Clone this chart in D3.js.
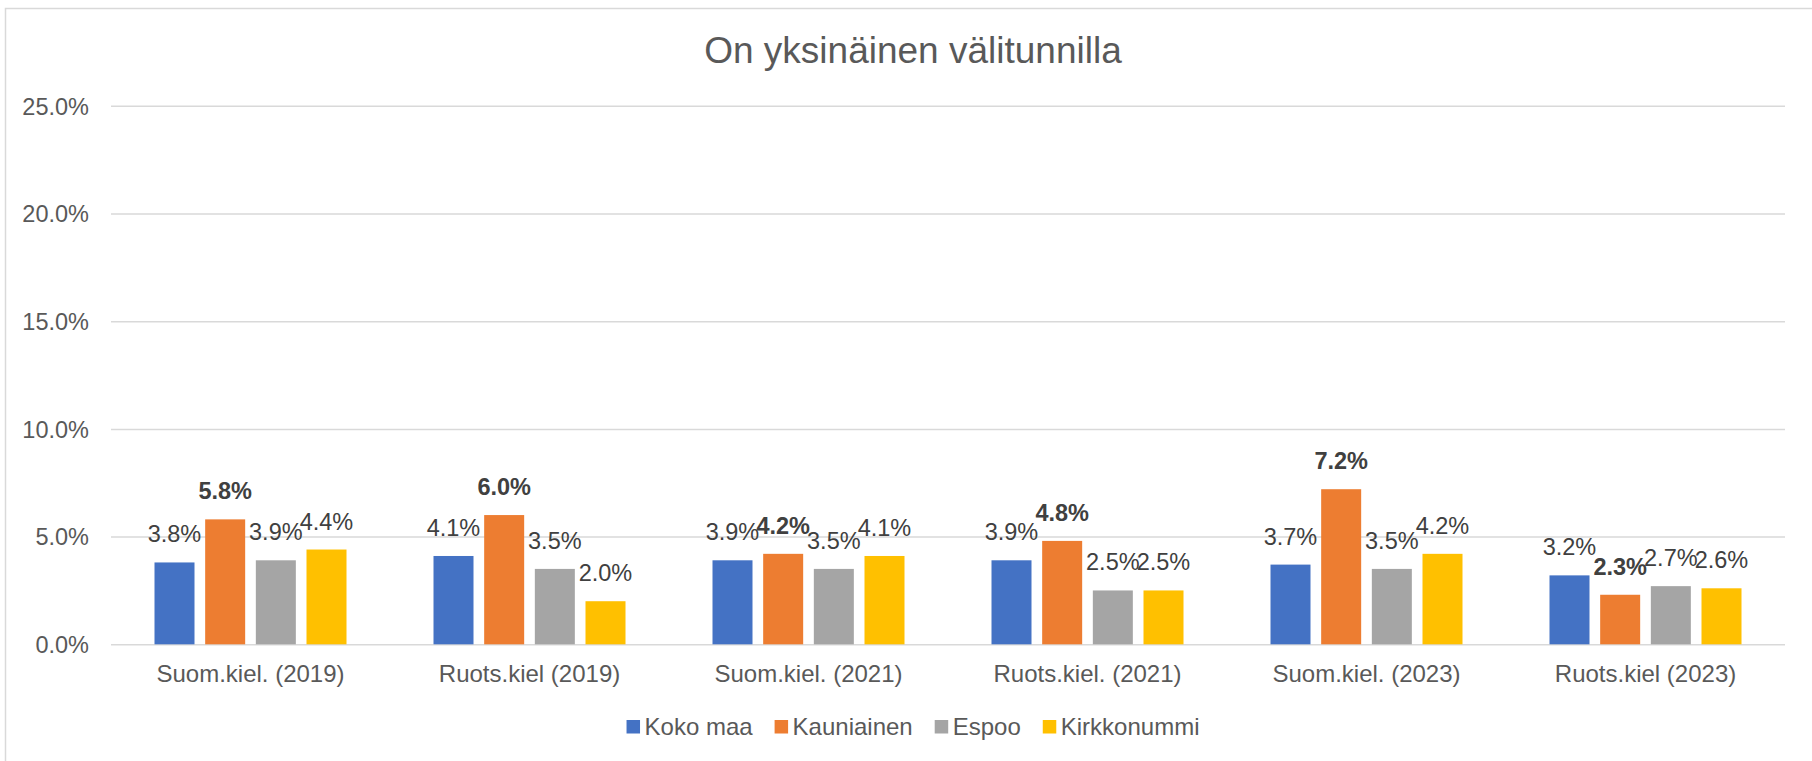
<!DOCTYPE html>
<html>
<head>
<meta charset="utf-8">
<script src="https://cdn.jsdelivr.net/npm/d3@7"></script>
<style>
  html, body { margin: 0; padding: 0; background: #fff; }
  svg { display: block; }
  text { font-family: "Liberation Sans", Arial, sans-serif; }
</style>
</head>
<body>
<svg id="chart" width="1812" height="761"></svg>
<script>
const title = "On yksinäinen välitunnilla";
const categories = ["Suom.kiel. (2019)", "Ruots.kiel (2019)", "Suom.kiel. (2021)", "Ruots.kiel. (2021)", "Suom.kiel. (2023)", "Ruots.kiel (2023)"];
const seriesNames = ["Koko maa", "Kauniainen", "Espoo", "Kirkkonummi"];
const kokoMaa = [3.8, 4.1, 3.9, 3.9, 3.7, 3.2];
const kauniainen = [5.8, 6.0, 4.2, 4.8, 7.2, 2.3];
const espoo = [3.9, 3.5, 3.5, 2.5, 3.5, 2.7];
const kirkkonummi = [4.4, 2.0, 4.1, 2.5, 4.2, 2.6];
const yTicks = [0, 5, 10, 15, 20, 25];
const colors = ["#4472C4", "#ED7D31", "#A5A5A5", "#FFC000"];
const boldSeries = ["Kauniainen"];

const seriesValues = [kokoMaa, kauniainen, espoo, kirkkonummi];
const data = categories.map((c, i) => ({
  category: c,
  values: seriesNames.map((s, j) => ({ series: s, value: seriesValues[j][i] }))
}));

const svg = d3.select("#chart");

// chart border
svg.append("rect")
  .attr("x", 5.5).attr("y", 8.5)
  .attr("width", 1900).attr("height", 900)
  .attr("fill", "#fff").attr("stroke", "#d9d9d9").attr("stroke-width", 1.5);

const plot = { left: 111, right: 1785, top: 105.8, bottom: 644.3 };

const x = d3.scaleBand().domain(categories).range([plot.left, plot.right]).padding(0);
const xInner = d3.scaleBand().domain(seriesNames)
  .range([43.5, x.bandwidth() - 43.5]).paddingInner(0.2105).paddingOuter(0);
const y = d3.scaleLinear().domain([0, 25]).range([plot.bottom, plot.top]);
const color = d3.scaleOrdinal().domain(seriesNames).range(colors);

// title
svg.append("text")
  .attr("x", 913).attr("y", 63)
  .attr("text-anchor", "middle")
  .attr("fill", "#595959")
  .attr("font-size", 37)
  .text(title);

// gridlines + y tick labels via axis
const yAxis = d3.axisLeft(y)
  .tickValues(yTicks)
  .tickSize(-(plot.right - plot.left))
  .tickPadding(22)
  .tickFormat(d => d.toFixed(1) + "%");
const gy = svg.append("g")
  .attr("transform", `translate(${plot.left},0)`)
  .call(yAxis);
gy.select(".domain").remove();
gy.selectAll(".tick line").attr("stroke", "#d9d9d9").attr("stroke-width", 1.5);
gy.selectAll(".tick text")
  .attr("fill", "#595959")
  .attr("font-size", 23.5)
  .attr("font-family", "'Liberation Sans', Arial, sans-serif")
  .attr("dy", "0.35em");

// bars
const groups = svg.append("g").selectAll("g.grp")
  .data(data).join("g")
  .attr("class", "grp")
  .attr("transform", d => `translate(${x(d.category)},0)`);

groups.selectAll("rect")
  .data(d => d.values).join("rect")
  .attr("x", d => xInner(d.series))
  .attr("width", xInner.bandwidth())
  .attr("y", d => y(d.value))
  .attr("height", d => y(0) - y(d.value))
  .attr("fill", d => color(d.series));

// data labels
groups.selectAll("text.lbl")
  .data(d => d.values).join("text")
  .attr("class", "lbl")
  .attr("x", d => xInner(d.series) + xInner.bandwidth() / 2)
  .attr("y", d => y(d.value) - 20)
  .attr("text-anchor", "middle")
  .attr("font-size", 23.5)
  .attr("font-weight", d => boldSeries.includes(d.series) ? "bold" : "normal")
  .attr("fill", "#404040")
  .text(d => d.value.toFixed(1) + "%");

// x axis labels
const xAxis = d3.axisBottom(x).tickSize(0).tickPadding(0);
const gx = svg.append("g")
  .attr("transform", `translate(0,${plot.bottom})`)
  .call(xAxis);
gx.select(".domain").remove();
gx.selectAll(".tick text")
  .attr("fill", "#595959")
  .attr("font-size", 24)
  .attr("font-family", "'Liberation Sans', Arial, sans-serif")
  .attr("dy", null)
  .attr("y", 38);

// legend
const legend = svg.append("g");
let cx = 0;
const items = legend.selectAll("g").data(seriesNames).join("g");
items.append("rect")
  .attr("x", 0).attr("y", 720)
  .attr("width", 13.5).attr("height", 13.5)
  .attr("fill", d => color(d));
items.append("text")
  .attr("x", 18).attr("y", 735)
  .attr("font-size", 24)
  .attr("fill", "#595959")
  .text(d => d);
items.each(function() {
  const g = d3.select(this);
  g.attr("transform", `translate(${cx},0)`);
  const w = 18 + g.select("text").node().getComputedTextLength();
  cx += w + 22;
});
const totalW = cx - 22;
legend.attr("transform", `translate(${913 - totalW / 2},0)`);
</script>
</body>
</html>
